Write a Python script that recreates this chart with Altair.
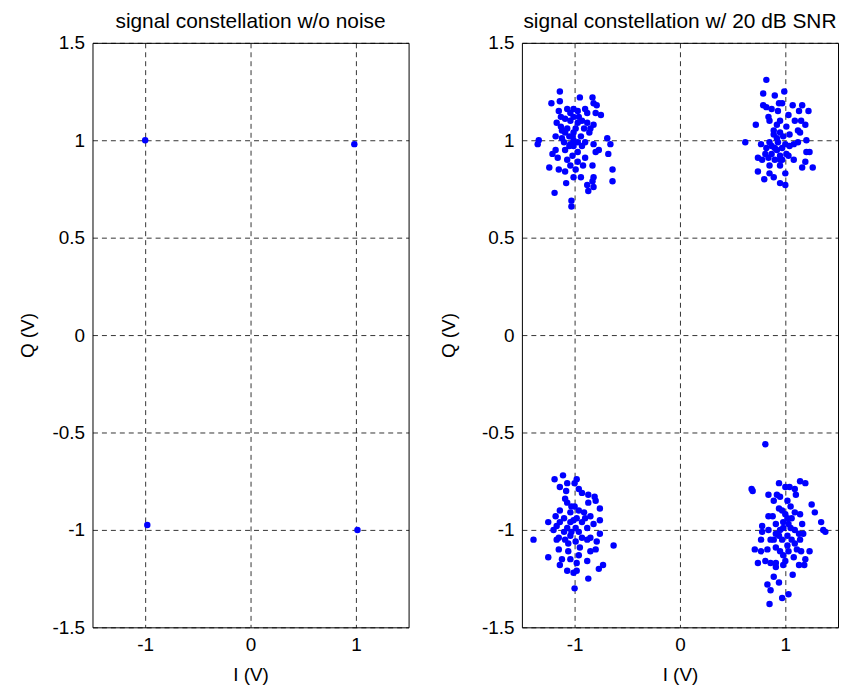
import altair as alt
import pandas as pd

# Ideal constellation (left panel)
clean_i = [-1.00, 0.985, -0.98, 1.015]
clean_q = [1.00, 0.98, -0.975, -1.00]

# Noisy constellation, 20 dB SNR (right panel) per cluster
tl_i = [-1.14, -0.95, -0.83, -1.22, -1.14, -0.82, -0.79, -1.01, -1.07, -0.90, -1.15, -0.97, -0.88, -0.80, -0.75,
        -1.13, -1.09, -1.01, -0.93, -1.17, -1.04, -0.97, -0.88, -0.82, -1.13, -1.07, -0.99, -0.91, -1.09, -1.01,
        -0.86, -1.18, -1.12, -1.02, -0.94, -1.34, -0.69, -1.10, -1.04, -0.90, -0.82, -1.35, -0.66, -1.01, -0.93,
        -1.18, -1.09, -0.77, -1.21, -0.80, -0.68, -1.02, -0.90, -1.16, -1.07, -0.97, -1.24, -1.15, -1.04, -0.92,
        -0.83, -0.64, -1.09, -0.99, -1.01, -0.94, -0.82, -0.83, -0.64, -1.08, -0.88, -0.82, -0.87, -1.19, -1.03,
        -1.03, -1.05, -0.97, -1.12, -0.85, -1.04, -0.96, -1.01, -0.97, -1.05]
tl_q = [1.25, 1.22, 1.22, 1.19, 1.20, 1.19, 1.18, 1.16, 1.16, 1.16, 1.15, 1.15, 1.14, 1.14, 1.13,
        1.12, 1.11, 1.12, 1.10, 1.09, 1.10, 1.09, 1.09, 1.08, 1.07, 1.06, 1.06, 1.06, 1.04, 1.04,
        1.04, 1.02, 1.01, 1.02, 1.02, 1.00, 1.01, 0.99, 0.98, 0.99, 0.98, 0.98, 0.98, 0.97, 0.97,
        0.95, 0.95, 0.95, 0.93, 0.94, 0.93, 0.92, 0.91, 0.91, 0.90, 0.89, 0.86, 0.85, 0.87, 0.87,
        0.87, 0.85, 0.84, 0.85, 0.81, 0.81, 0.81, 0.79, 0.79, 0.78, 0.77, 0.76, 0.74, 0.73, 0.69,
        0.66, 0.97, 0.94, 1.05, 1.06, 1.14, 1.12, 1.00, 0.99, 1.02]

tr_i = [0.82, 0.99, 0.79, 0.90, 0.94, 0.97, 0.79, 0.82, 1.07, 1.16, 1.13, 1.22, 0.87, 0.93, 1.03,
        0.84, 0.85, 0.95, 1.09, 1.15, 0.72, 0.92, 1.19, 1.01, 0.89, 1.12, 0.95, 0.89, 1.04, 1.14,
        0.62, 0.77, 0.85, 0.93, 1.00, 1.08, 1.12, 1.20, 0.82, 0.90, 0.97, 1.04, 1.20, 1.23, 0.81,
        0.87, 0.95, 1.01, 0.74, 0.84, 0.90, 0.97, 1.08, 1.19, 0.78, 0.85, 0.95, 1.16, 1.26, 0.74,
        0.85, 1.00, 0.89, 0.80, 0.95, 1.00, 0.92, 0.98, 1.03, 0.87, 0.92, 0.95]
tr_q = [1.31, 1.25, 1.24, 1.23, 1.19, 1.19, 1.18, 1.17, 1.18, 1.18, 1.15, 1.15, 1.16, 1.15, 1.13,
        1.12, 1.10, 1.10, 1.10, 1.10, 1.08, 1.08, 1.08, 1.07, 1.05, 1.05, 1.04, 1.03, 1.03, 1.04,
        0.99, 0.98, 0.99, 0.99, 0.98, 0.98, 0.99, 1.00, 0.96, 0.96, 0.96, 0.97, 0.94, 0.94, 0.93,
        0.93, 0.92, 0.93, 0.91, 0.91, 0.90, 0.90, 0.90, 0.89, 0.90, 0.87, 0.87, 0.86, 0.86, 0.84,
        0.83, 0.83, 0.81, 0.80, 0.78, 0.77, 0.95, 1.02, 0.92, 0.97, 1.01, 0.90]

bl_i = [-1.19, -1.11, -0.98, -1.14, -1.07, -1.00, -0.96, -1.08, -0.93, -0.87, -0.81, -1.09, -0.87, -0.80, -1.00,
        -0.76, -1.07, -1.14, -1.04, -0.91, -1.18, -1.10, -0.98, -0.85, -0.76, -1.25, -1.04, -0.93, -0.82, -1.17,
        -1.07, -0.99, -0.88, -1.20, -1.10, -0.96, -0.76, -1.39, -1.15, -1.04, -0.93, -0.85, -1.17, -1.09, -0.99,
        -0.88, -0.79, -0.63, -1.15, -1.06, -0.95, -0.80, -0.85, -1.25, -1.12, -1.04, -0.96, -0.88, -1.14, -0.98,
        -0.73, -0.77, -1.07, -1.01, -0.98, -0.87, -1.00, -1.03, -1.01, -1.14, -0.90, -0.96, -1.03, -1.06]
bl_q = [-0.74, -0.72, -0.74, -0.78, -0.76, -0.76, -0.79, -0.80, -0.81, -0.82, -0.83, -0.84, -0.86, -0.85, -0.88,
        -0.89, -0.86, -0.90, -0.91, -0.91, -0.93, -0.94, -0.94, -0.93, -0.95, -0.96, -0.96, -0.96, -0.97, -0.98,
        -0.99, -0.99, -0.99, -1.00, -1.01, -1.01, -1.02, -1.05, -1.04, -1.03, -1.04, -1.04, -1.05, -1.05, -1.06,
        -1.05, -1.06, -1.08, -1.10, -1.11, -1.09, -1.10, -1.11, -1.14, -1.15, -1.15, -1.13, -1.16, -1.18, -1.17,
        -1.18, -1.20, -1.21, -1.22, -1.21, -1.25, -1.30, -0.88, -0.95, -0.96, -0.94, -0.90, -1.01, -1.07]

br_i = [0.81, 0.68, 0.69, 0.94, 1.14, 1.19, 1.00, 1.04, 1.09, 0.84, 0.92, 0.95, 1.10, 0.89, 1.02,
        1.25, 1.05, 0.94, 0.97, 1.09, 1.14, 1.28, 0.84, 0.88, 1.02, 0.98, 1.34, 0.78, 0.91, 1.03,
        1.16, 0.78, 0.84, 0.95, 1.09, 1.17, 1.36, 1.38, 0.91, 1.02, 1.13, 0.77, 0.86, 0.97, 1.06,
        1.14, 1.02, 1.09, 0.91, 0.71, 0.83, 0.95, 0.77, 1.03, 1.15, 1.23, 0.98, 1.08, 1.19, 0.74,
        0.81, 0.86, 0.91, 0.98, 1.13, 1.18, 0.91, 1.07, 0.89, 0.94, 0.83, 0.86, 1.03, 0.97, 0.85,
        0.98, 1.05, 0.94, 1.00, 1.06, 0.89, 1.11, 1.00]
br_q = [-0.56, -0.79, -0.80, -0.76, -0.75, -0.76, -0.78, -0.78, -0.79, -0.82, -0.82, -0.83, -0.82, -0.85, -0.85,
        -0.87, -0.88, -0.89, -0.90, -0.91, -0.92, -0.91, -0.93, -0.93, -0.94, -0.96, -0.96, -0.98, -0.97, -0.97,
        -0.97, -1.01, -1.00, -1.00, -1.00, -1.02, -1.00, -1.01, -1.02, -1.03, -1.02, -1.05, -1.05, -1.05, -1.05,
        -1.05, -1.08, -1.07, -1.09, -1.10, -1.10, -1.11, -1.11, -1.11, -1.11, -1.11, -1.13, -1.14, -1.15, -1.17,
        -1.16, -1.17, -1.17, -1.18, -1.18, -1.18, -1.19, -1.23, -1.24, -1.27, -1.28, -1.31, -1.33, -1.35, -1.38,
        -0.99, -0.99, -1.03, -0.92, -0.94, -1.05, -1.10, -1.16]

x_ticks = [-1, 0, 1]
y_ticks = [-1.5, -1, -0.5, 0, 0.5, 1, 1.5]

clean_df = pd.DataFrame({"I": clean_i, "Q": clean_q})
noisy_df = pd.DataFrame({
    "I": tl_i + tr_i + bl_i + br_i,
    "Q": tl_q + tr_q + bl_q + br_q,
})

FONT = "Liberation Sans"


def panel(df, title, title_pad):
    return alt.Chart(df).mark_circle(color="#0000ff", size=42, opacity=1).encode(
        x=alt.X("I:Q",
                scale=alt.Scale(domain=[-1.5, 1.5], nice=False, zero=False),
                axis=alt.Axis(values=x_ticks, title="I (V)", labelExpr="'' + datum.value",
                              labelPadding=8, titlePadding=12)),
        y=alt.Y("Q:Q",
                scale=alt.Scale(domain=[-1.5, 1.5], nice=False, zero=False),
                axis=alt.Axis(values=y_ticks, title="Q (V)", labelExpr="'' + datum.value",
                              labelPadding=8, titlePadding=title_pad,
                              minExtent=42, maxExtent=42)),
    ).properties(
        width=318, height=588,
        title=alt.TitleParams(title, fontSize=21, fontWeight="normal", font=FONT,
                              color="black", offset=2),
    )


left = panel(clean_df, "signal constellation w/o noise", 13)
right = panel(noisy_df, "signal constellation w/ 20 dB SNR", 22)

chart = alt.hconcat(left, right, spacing=29).properties(
    padding={"left": 10, "top": 0, "right": 0, "bottom": 0},
    background="white",
).configure_view(
    stroke="black", strokeWidth=1
).configure_axis(
    domain=False, ticks=False,
    grid=True, gridColor="black", gridDash=[5, 4], gridWidth=0.8, gridOpacity=1,
    labelFont=FONT, labelFontSize=19, labelColor="black",
    titleFont=FONT, titleFontSize=19, titleFontWeight="normal", titleColor="black",
)

chart.save("out.html", embed_options={"renderer": "svg", "actions": False})
